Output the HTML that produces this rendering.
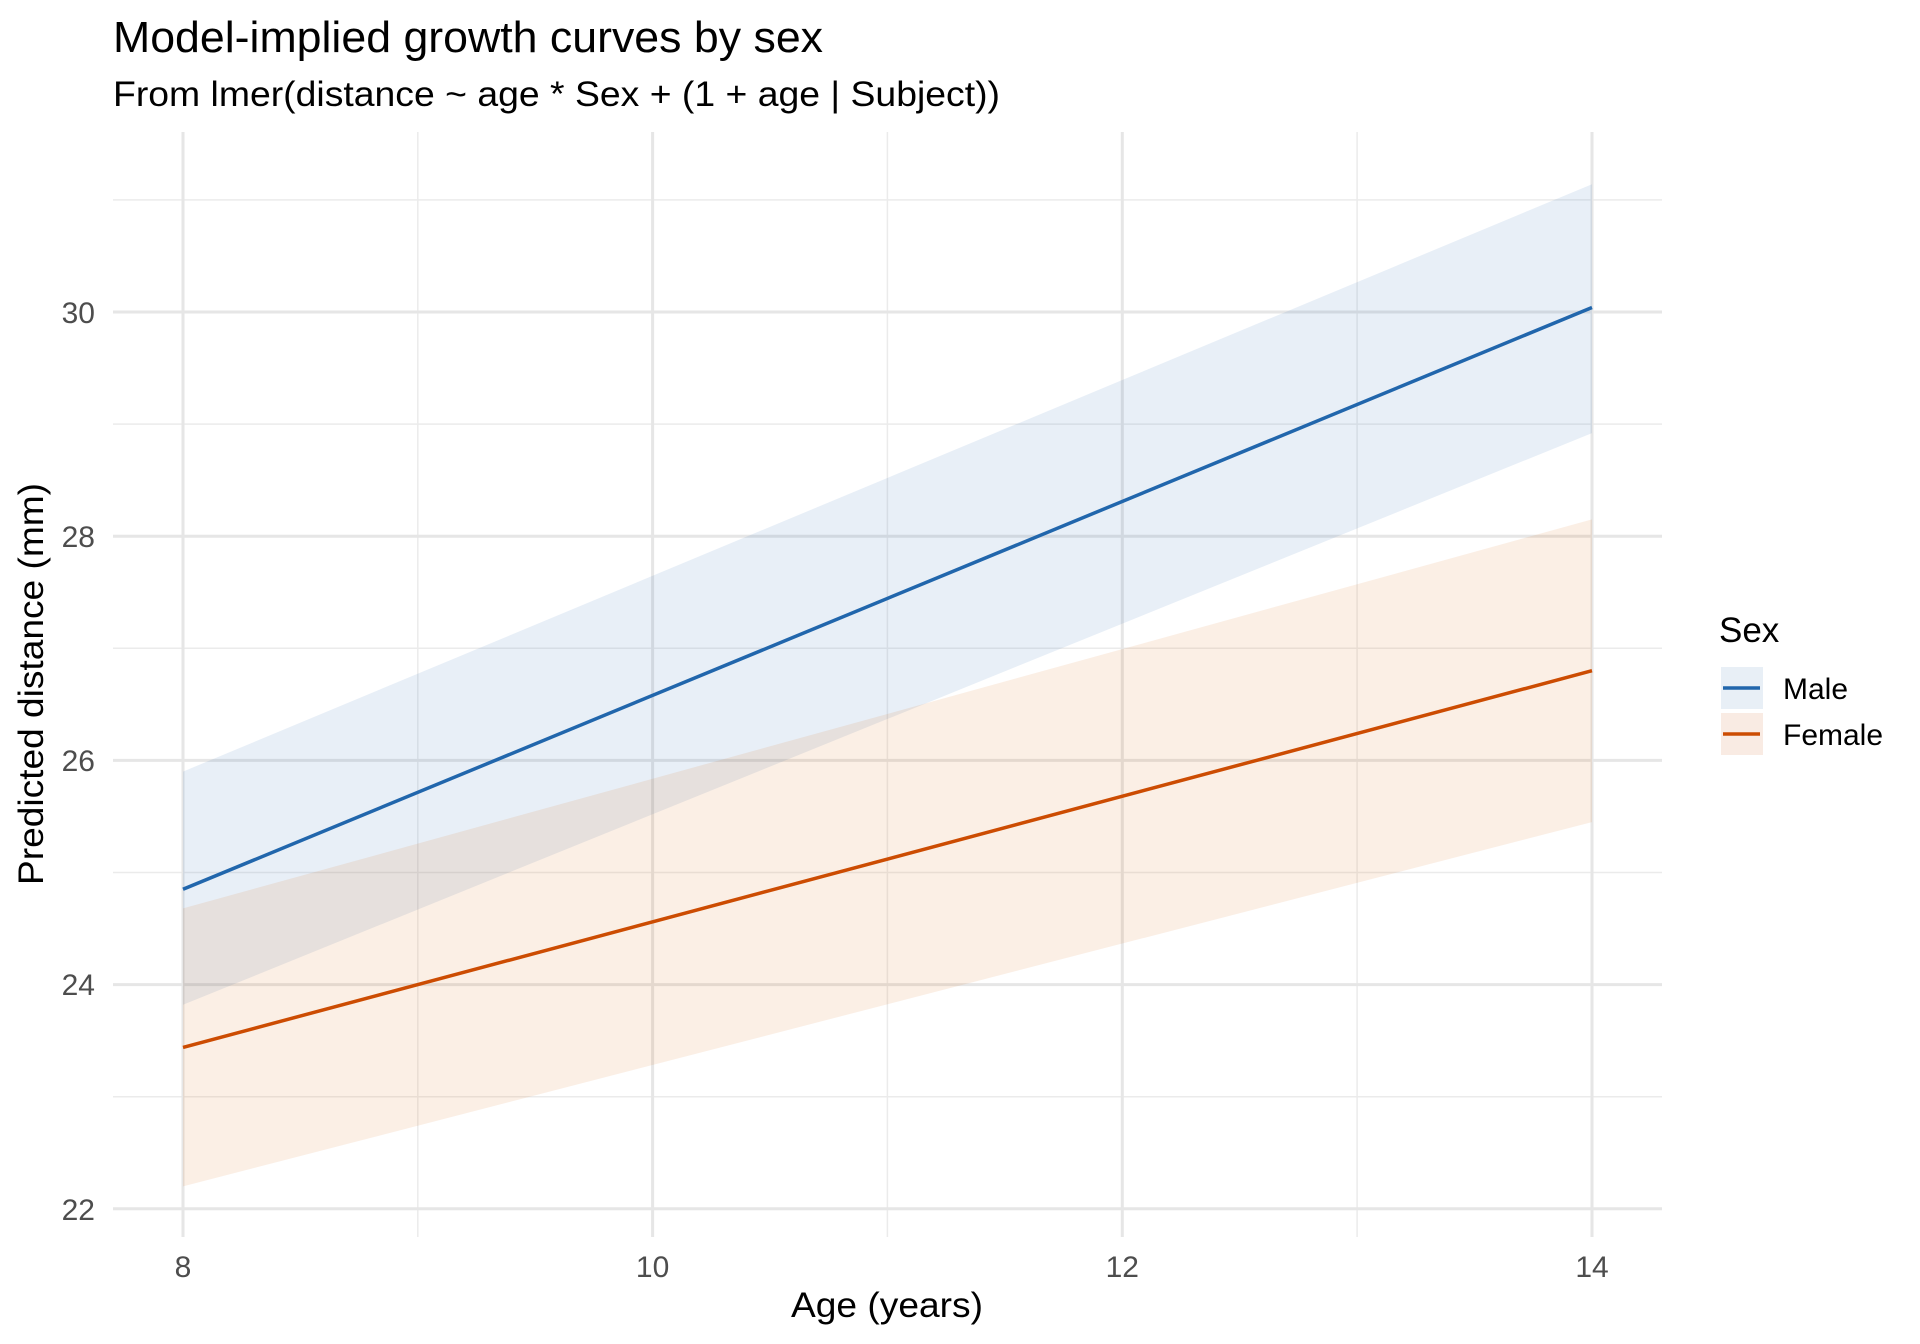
<!DOCTYPE html>
<html><head><meta charset="utf-8"><style>html,body{margin:0;padding:0;background:#fff}svg{display:block}</style></head>
<body>
<svg width="1920" height="1344" viewBox="0 0 1920 1344" xmlns="http://www.w3.org/2000/svg" font-family="Liberation Sans, Arial, sans-serif">
<rect width="1920" height="1344" fill="#fff"/>
<g stroke="#ebebeb" stroke-width="1.5">
<line x1="113" x2="1662" y1="199.9" y2="199.9"/><line x1="113" x2="1662" y1="424.1" y2="424.1"/><line x1="113" x2="1662" y1="648.3" y2="648.3"/><line x1="113" x2="1662" y1="872.5" y2="872.5"/><line x1="113" x2="1662" y1="1096.7" y2="1096.7"/>
<line y1="132" y2="1237" x1="417.8" x2="417.8"/><line y1="132" y2="1237" x1="887.4" x2="887.4"/><line y1="132" y2="1237" x1="1357.1" x2="1357.1"/>
</g>
<g stroke="#e6e6e6" stroke-width="3">
<line x1="113" x2="1662" y1="312" y2="312"/><line x1="113" x2="1662" y1="536.2" y2="536.2"/><line x1="113" x2="1662" y1="760.4" y2="760.4"/><line x1="113" x2="1662" y1="984.6" y2="984.6"/><line x1="113" x2="1662" y1="1208.8" y2="1208.8"/>
<line y1="132" y2="1237" x1="183" x2="183"/><line y1="132" y2="1237" x1="652.6" x2="652.6"/><line y1="132" y2="1237" x1="1122.3" x2="1122.3"/><line y1="132" y2="1237" x1="1592" x2="1592"/>
</g>
<polygon points="183,771.6 1592,184.2 1592,433.1 183,1004.8" fill="#2166ac" fill-opacity="0.1"/>
<polygon points="183,908.4 1592,519.4 1592,822.1 183,1186.4" fill="#d95f02" fill-opacity="0.1"/>
<line x1="183" y1="889.3" x2="1592" y2="307.5" stroke="#2166ac" stroke-width="3.5"/>
<line x1="183" y1="1047.4" x2="1592" y2="670.7" stroke="#cc4c02" stroke-width="3.5"/>
<g font-size="30" fill="#4d4d4d" text-anchor="end">
<text x="95" y="323">30</text><text x="95" y="547">28</text><text x="95" y="771">26</text><text x="95" y="995">24</text><text x="95" y="1220">22</text>
</g>
<g font-size="30" fill="#4d4d4d" text-anchor="middle">
<text x="183" y="1277">8</text><text x="652.6" y="1277">10</text><text x="1122.3" y="1277">12</text><text x="1592" y="1277">14</text>
</g>
<text x="791" y="1317" font-size="35" textLength="192" lengthAdjust="spacingAndGlyphs">Age (years)</text>
<text transform="translate(43,885) rotate(-90)" font-size="35" textLength="402" lengthAdjust="spacingAndGlyphs">Predicted distance (mm)</text>
<text x="113" y="52" font-size="44" textLength="710" lengthAdjust="spacingAndGlyphs">Model-implied growth curves by sex</text>
<text x="113" y="106" font-size="35" textLength="887" lengthAdjust="spacingAndGlyphs">From lmer(distance ~ age * Sex + (1 + age | Subject))</text>
<text x="1719" y="642" font-size="35">Sex</text>
<rect x="1721" y="667" width="42" height="42" fill="#e8eff6"/>
<line x1="1723" x2="1760" y1="688" y2="688" stroke="#2166ac" stroke-width="3.5"/>
<rect x="1721" y="713" width="42" height="42" fill="#f9ebe3"/>
<line x1="1723" x2="1760" y1="734" y2="734" stroke="#cc4c02" stroke-width="3.5"/>
<text x="1783" y="699" font-size="30">Male</text>
<text x="1783" y="745" font-size="30">Female</text>
</svg>
</body></html>
